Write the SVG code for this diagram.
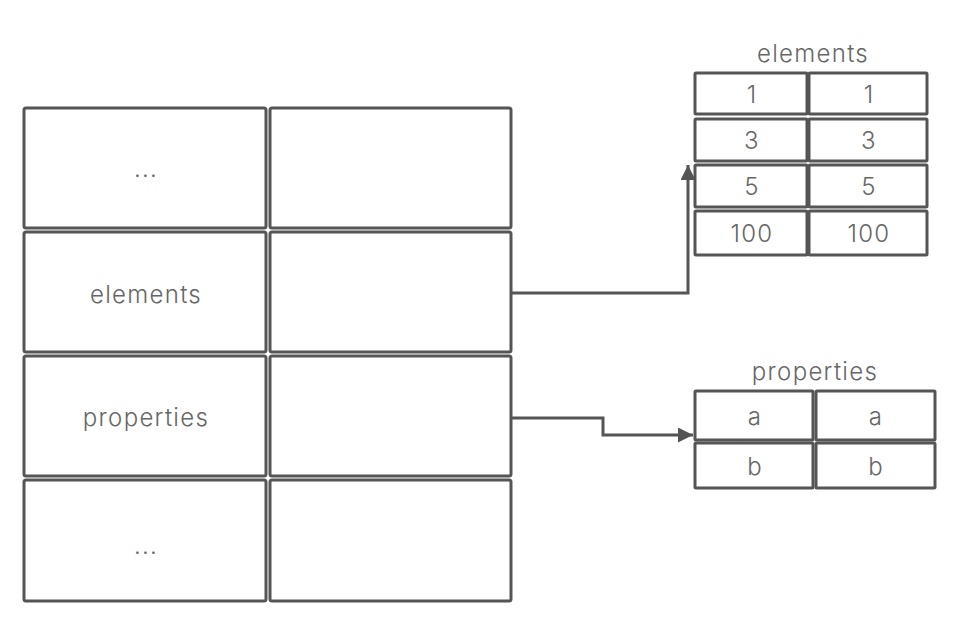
<svg xmlns="http://www.w3.org/2000/svg" width="966" height="634" viewBox="0 0 966 634">
<defs>
<style>
.c{fill:#fff;stroke:#555;stroke-width:3}
.t{font-family:Inter,"Noto Sans","Liberation Sans",sans-serif;font-weight:300;font-size:24px;letter-spacing:1.3px;fill:#666;text-anchor:middle;dominant-baseline:central}
.e{fill:none;stroke:#555;stroke-width:3}
</style>
<marker id="ah" viewBox="0 0 10 10" refX="10" refY="5" markerWidth="5" markerHeight="5" orient="auto" markerUnits="strokeWidth">
<path d="M0,0 L10,5 L0,10 z" fill="#555"/>
</marker>
</defs>
<rect width="966" height="634" fill="#fff"/>
<g id="map">
<rect class="c" x="24" y="108" width="242" height="120" rx="2"/>
<rect class="c" x="270" y="108" width="241" height="120" rx="2"/>
<text class="t" x="146" y="168">...</text>
<rect class="c" x="24" y="232" width="242" height="120" rx="2"/>
<rect class="c" x="270" y="232" width="241" height="120" rx="2"/>
<text class="t" x="146" y="294">elements</text>
<rect class="c" x="24" y="356" width="242" height="120" rx="2"/>
<rect class="c" x="270" y="356" width="241" height="120" rx="2"/>
<text class="t" x="146" y="417">properties</text>
<rect class="c" x="24" y="480" width="242" height="121" rx="2"/>
<rect class="c" x="270" y="480" width="241" height="121" rx="2"/>
<text class="t" x="146" y="545">...</text>
</g>
<g id="elements">
<text class="t" x="813" y="53">elements</text>
<rect class="c" x="695" y="73" width="112" height="41" rx="1"/>
<rect class="c" x="809" y="73" width="118" height="41" rx="1"/>
<text class="t" x="752" y="94">1</text>
<text class="t" x="869" y="94">1</text>
<rect class="c" x="695" y="119" width="112" height="42" rx="1"/>
<rect class="c" x="809" y="119" width="118" height="42" rx="1"/>
<text class="t" x="752" y="140">3</text>
<text class="t" x="869" y="140">3</text>
<rect class="c" x="695" y="165" width="112" height="42" rx="1"/>
<rect class="c" x="809" y="165" width="118" height="42" rx="1"/>
<text class="t" x="752" y="186">5</text>
<text class="t" x="869" y="186">5</text>
<rect class="c" x="695" y="211" width="112" height="44" rx="1"/>
<rect class="c" x="809" y="211" width="118" height="44" rx="1"/>
<text class="t" x="752" y="233">100</text>
<text class="t" x="869" y="233">100</text>
</g>
<g id="properties">
<text class="t" x="815" y="371">properties</text>
<rect class="c" x="695" y="391" width="118" height="49" rx="1"/>
<rect class="c" x="816" y="391" width="119" height="49" rx="1"/>
<text class="t" x="755" y="416">a</text>
<text class="t" x="876" y="416">a</text>
<rect class="c" x="695" y="443" width="118" height="45" rx="1"/>
<rect class="c" x="816" y="443" width="119" height="45" rx="1"/>
<text class="t" x="755" y="466">b</text>
<text class="t" x="876" y="466">b</text>
</g>
<g id="connectors">
<path class="e" d="M511,293 H688 V165" marker-end="url(#ah)"/>
<path class="e" d="M511,418 H603 V435 H693" marker-end="url(#ah)"/>
</g>
</svg>
